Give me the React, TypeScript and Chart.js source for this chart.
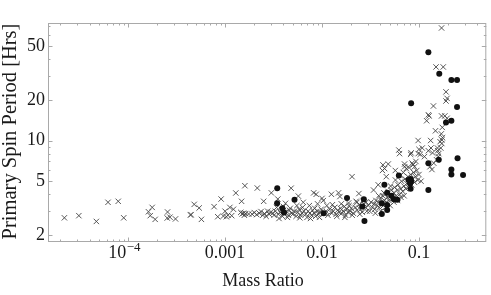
import React, { useEffect, useRef } from "react";
import { Chart, registerables } from "chart.js";

Chart.register(...registerables);

const FONT = '"Liberation Serif", "Times New Roman", Times, serif';

// Axis ranges
const xRange = [1.49e-5, 0.495];
const yRange = [1.775, 74];

// Tick labels
const xMajorTicks = [1e-4, 1e-3, 1e-2, 1e-1];
const xTickLabels = ["10^-4", "0.001", "0.01", "0.1"];
const yMajorTicks = [2, 5, 10, 20, 50];
const yTickLabels = ["2", "5", "10", "20", "50"];

const xAxisTitle = "Mass Ratio";
const yAxisTitle = "Primary Spin Period [Hrs]";

// Data: [mass ratio, primary spin period (hrs)]
const crossesSparse: [number, number][] = [
  [2.2e-5, 2.68], [3.1e-5, 2.78], [4.7e-5, 2.52], [6.2e-5, 3.49], [7.9e-5, 3.55], [9.0e-5, 2.68],
  [1.62e-4, 2.97], [1.77e-4, 3.2], [1.69e-4, 2.78], [1.9e-4, 2.61], [2.55e-4, 2.96], [2.53e-4, 2.67],
  [2.7e-4, 2.71], [3.08e-4, 2.63], [4.4e-4, 2.81], [4.45e-4, 2.83], [4.8e-4, 3.37], [5.4e-4, 3.17],
  [5.7e-4, 2.61], [7.7e-4, 3.24], [8.4e-4, 2.73], [9.1e-4, 3.69], [9.6e-4, 2.76],
];

const crossesLowBand: [number, number][] = [
  [1.0e-3, 3.0], [1.03e-3, 2.73], [1.12e-3, 3.2], [1.17e-3, 2.78], [1.07e-3, 2.8], [1.22e-3, 3.1],
  [1.29e-3, 4.09], [1.45e-3, 2.94], [1.48e-3, 3.55], [1.6e-3, 4.63], [1.5e-3, 2.86], [1.55e-3, 2.9],
  [1.58e-3, 2.8], [1.63e-3, 2.88], [1.75e-3, 2.86], [1.9e-3, 2.85], [2.0e-3, 2.93], [2.15e-3, 4.45],
  [2.12e-3, 2.83], [2.25e-3, 2.9], [2.35e-3, 2.98], [2.45e-3, 2.8], [2.5e-3, 3.55], [2.55e-3, 2.88],
  [2.65e-3, 2.75], [2.75e-3, 3.0], [2.85e-3, 2.85], [2.95e-3, 2.95], [3.0e-3, 4.1], [3.1e-3, 2.9],
  [3.2e-3, 2.8], [3.3e-3, 3.0], [3.4e-3, 3.2], [3.5e-3, 3.69], [3.55e-3, 2.85], [3.6e-3, 2.65],
  [3.7e-3, 2.95], [3.8e-3, 3.1], [3.9e-3, 2.75], [4.0e-3, 3.25], [4.1e-3, 2.9], [4.2e-3, 3.43],
  [4.3e-3, 3.0], [4.4e-3, 2.7], [4.5e-3, 2.8], [4.6e-3, 3.05], [4.7e-3, 3.15], [4.8e-3, 4.44],
  [4.85e-3, 2.9], [5.0e-3, 2.85], [5.2e-3, 3.0], [5.4e-3, 2.75], [5.5e-3, 3.3], [5.6e-3, 2.95],
  [5.7e-3, 3.88], [5.8e-3, 3.1], [5.9e-3, 2.68], [6.0e-3, 2.8], [6.2e-3, 2.9], [6.3e-3, 3.2],
  [6.4e-3, 3.49], [6.5e-3, 3.0], [6.8e-3, 2.85], [7.0e-3, 2.7], [7.2e-3, 3.0], [7.4e-3, 3.3],
  [7.5e-3, 2.9], [7.6e-3, 2.65], [7.8e-3, 2.8], [8.0e-3, 3.05], [8.2e-3, 4.1], [8.3e-3, 2.9],
  [8.4e-3, 3.15], [8.6e-3, 2.75], [8.7e-3, 4.0], [8.9e-3, 3.0], [9.0e-3, 3.4], [9.2e-3, 2.85],
  [9.4e-3, 2.7], [9.5e-3, 2.95], [9.8e-3, 3.1],
];

const crossesMidBand: [number, number][] = [
  [0.01, 3.73], [0.0103, 3.59], [0.0105, 2.9], [0.011, 3.0], [0.0112, 3.3], [0.0115, 2.8],
  [0.012, 3.1], [0.0125, 4.0], [0.0126, 2.9], [0.0128, 3.35], [0.013, 3.0], [0.0135, 3.2],
  [0.014, 2.85], [0.0142, 2.75], [0.0145, 3.05], [0.0148, 4.1], [0.015, 2.95], [0.0153, 3.85],
  [0.0155, 3.15], [0.0158, 3.4], [0.016, 2.9], [0.0165, 3.0], [0.017, 3.25], [0.0172, 2.7],
  [0.0175, 2.8], [0.018, 3.1], [0.0185, 2.95], [0.0188, 3.45], [0.019, 3.3], [0.0195, 3.0],
  [0.02, 3.15], [0.0204, 5.4], [0.0205, 2.8], [0.021, 2.9], [0.022, 3.2], [0.0225, 3.55],
  [0.0229, 3.49], [0.023, 3.05], [0.024, 4.05], [0.0242, 3.35], [0.0245, 2.85], [0.025, 3.1],
  [0.026, 2.95], [0.0265, 3.6], [0.027, 3.4], [0.028, 3.2], [0.0285, 3.5], [0.029, 3.0],
];

const crossesRising: [number, number][] = [
  [0.03, 3.3], [0.031, 3.0], [0.032, 3.5], [0.033, 3.2], [0.034, 4.3], [0.0345, 3.4],
  [0.035, 3.1], [0.0355, 2.9], [0.036, 3.6], [0.037, 3.3], [0.038, 4.7], [0.0382, 3.5],
  [0.0385, 3.9], [0.039, 3.2], [0.04, 3.7], [0.0405, 3.0], [0.041, 3.4], [0.042, 6.0],
  [0.0422, 3.9], [0.0425, 6.6], [0.043, 3.3], [0.0435, 4.1], [0.044, 3.6], [0.0442, 6.2],
  [0.045, 4.0], [0.0452, 3.2], [0.046, 5.4], [0.0462, 3.5], [0.047, 3.8], [0.048, 4.2],
  [0.0482, 6.7], [0.049, 3.6], [0.05, 3.9], [0.0505, 3.3], [0.051, 4.6], [0.052, 4.3],
  [0.053, 3.7], [0.055, 4.1], [0.0552, 3.5], [0.056, 4.5], [0.057, 6.0], [0.0572, 5.1],
  [0.058, 3.9], [0.06, 4.3], [0.0602, 3.6], [0.061, 4.7], [0.062, 8.5], [0.063, 8.0],
  [0.0632, 4.0], [0.064, 5.5], [0.065, 4.4], [0.0652, 3.8], [0.066, 5.0], [0.068, 4.2],
  [0.069, 5.8], [0.07, 4.6], [0.0702, 3.9], [0.071, 6.7], [0.0712, 6.4], [0.072, 5.2],
  [0.073, 4.4], [0.074, 6.2], [0.075, 4.8], [0.077, 5.4], [0.078, 4.5], [0.079, 6.3],
  [0.08, 5.0], [0.082, 7.9], [0.0822, 5.6], [0.083, 8.1], [0.084, 4.7], [0.085, 6.8],
  [0.086, 5.2], [0.087, 6.6], [0.088, 5.8], [0.09, 6.4], [0.0902, 4.9], [0.092, 5.4],
  [0.093, 7.0], [0.095, 6.0], [0.097, 5.1], [0.098, 10.0], [0.0982, 8.0],
];

const crossesHigh: [number, number][] = [
  [0.1, 8.6], [0.1, 5.6], [0.103, 7.9], [0.105, 5.0], [0.108, 8.8], [0.114, 7.6],
  [0.12, 14.0], [0.125, 8.4], [0.125, 15.5], [0.127, 15.2], [0.13, 6.4], [0.132, 10.0],
  [0.133, 8.8], [0.136, 6.1], [0.138, 8.1], [0.141, 18.0], [0.142, 6.8], [0.148, 11.8],
  [0.15, 35], [0.152, 7.2], [0.155, 8.8], [0.156, 8.4], [0.158, 7.6], [0.16, 8.0],
  [0.165, 9.8], [0.17, 11.2], [0.171, 15.2], [0.171, 68], [0.172, 10.1], [0.172, 9.5],
  [0.174, 12.5], [0.175, 10.5], [0.178, 35], [0.185, 15.2], [0.19, 22.9], [0.19, 19.6],
  [0.195, 20.5], [0.195, 14.6], [0.168, 8.8],
];

const dots: [number, number][] = [
  [0.125, 44.9], [0.162, 31.2], [0.216, 28], [0.247, 28], [0.083, 18.9], [0.247, 17.7],
  [0.19, 13.6], [0.216, 14.0], [0.125, 6.8], [0.16, 7.2], [0.25, 7.4], [0.216, 6.1],
  [0.216, 5.6], [0.285, 5.55], [0.125, 4.3], [0.062, 5.5], [0.082, 5.2], [0.083, 5.0],
  [0.081, 4.8], [0.078, 5.1], [0.082, 4.4], [0.0274, 2.54], [0.0414, 2.86], [0.0414, 3.43],
  [0.047, 4.1], [0.047, 3.33], [0.047, 3.06], [0.055, 3.67], [0.06, 3.64], [0.044, 4.7],
  [0.052, 3.9], [0.027, 3.67], [0.026, 3.25], [0.0181, 3.76], [0.0104, 2.9], [5.2e-3, 3.64],
  [3.45e-3, 4.44], [3.44e-3, 3.43], [3.9e-3, 3.16], [4.05e-3, 2.93],
];

const FRAME = "#a9a9a9";
const TEXT = "#1a1a1a";

const toXY = (arr: [number, number][]) => arr.map(([x, y]) => ({ x, y }));
const same = (a: number, b: number) => Math.abs(Math.log10(a) - Math.log10(b)) < 1e-6;

function minorTicks(min: number, max: number) {
  const out: number[] = [];
  for (let e = Math.floor(Math.log10(min)); e <= Math.ceil(Math.log10(max)); e++) {
    for (let m = 2; m <= 9; m++) {
      const v = m * Math.pow(10, e);
      if (v > min && v < max) out.push(v);
    }
  }
  return out;
}

const framePlugin = {
  id: "mathematicaFrame",
  afterDraw(chart: any) {
    const { ctx, chartArea } = chart;
    const xs = chart.scales.x;
    const ys = chart.scales.y;
    const { left, right, top, bottom } = chartArea;
    ctx.save();
    ctx.strokeStyle = FRAME;
    ctx.lineWidth = 1;
    ctx.strokeRect(left + 0.5, top + 0.5, right - left - 1, bottom - top - 1);

    const drawX = (v: number, len: number) => {
      const p = Math.round(xs.getPixelForValue(v)) + 0.5;
      ctx.beginPath();
      ctx.moveTo(p, bottom);
      ctx.lineTo(p, bottom - len);
      ctx.moveTo(p, top);
      ctx.lineTo(p, top + len);
      ctx.stroke();
    };
    const drawY = (v: number, len: number) => {
      const p = Math.round(ys.getPixelForValue(v)) + 0.5;
      ctx.beginPath();
      ctx.moveTo(left, p);
      ctx.lineTo(left + len, p);
      ctx.moveTo(right, p);
      ctx.lineTo(right - len, p);
      ctx.stroke();
    };
    xMajorTicks.forEach((v) => drawX(v, 4.5));
    minorTicks(xRange[0], xRange[1]).forEach((v) => {
      if (!xMajorTicks.some((t) => same(t, v))) drawX(v, 2.5);
    });
    yMajorTicks.forEach((v) => drawY(v, 4.5));
    minorTicks(yRange[0], yRange[1]).forEach((v) => {
      if (!yMajorTicks.some((t) => same(t, v))) drawY(v, 2.5);
    });

    ctx.fillStyle = TEXT;
    // superscript tick labels
    xTickLabels.forEach((lab, i) => {
      if (!lab.includes("^")) return;
      const [base, exp] = lab.split("^");
      const p = xs.getPixelForValue(xMajorTicks[i]);
      ctx.font = `18px ${FONT}`;
      const wb = ctx.measureText(base).width;
      ctx.font = `13px ${FONT}`;
      const expText = exp.replace("-", "\u2212");
      const we = ctx.measureText(expText).width;
      const start = p - (wb + we) / 2 - 4;
      ctx.textAlign = "left";
      ctx.textBaseline = "alphabetic";
      ctx.font = `18px ${FONT}`;
      ctx.fillText(base, start, 257.5);
      ctx.font = `13px ${FONT}`;
      ctx.fillText(expText, start + wb + 0.5, 251);
    });

    // axis titles
    ctx.textAlign = "center";
    ctx.textBaseline = "alphabetic";
    ctx.font = `18px ${FONT}`;
    ctx.fillText(xAxisTitle, 263, 285.5);
    ctx.save();
    ctx.font = `20.5px ${FONT}`;
    ctx.translate(15.5, (top + bottom) / 2 - 1);
    ctx.rotate(-Math.PI / 2);
    ctx.fillText(yAxisTitle, 0, 0);
    ctx.restore();
    ctx.restore();
  },
};

export default function App() {
  const ref = useRef<HTMLCanvasElement | null>(null);

  useEffect(() => {
    if (!ref.current) return;
    const crossData = toXY([
      ...crossesSparse,
      ...crossesLowBand,
      ...crossesMidBand,
      ...crossesRising,
      ...crossesHigh,
    ]);
    const chart = new Chart(ref.current, {
      type: "scatter",
      data: {
        datasets: [
          {
            label: "dots",
            data: toXY(dots),
            pointStyle: "circle",
            pointRadius: 3,
            pointHoverRadius: 3,
            backgroundColor: "#111111",
            borderColor: "#111111",
            borderWidth: 0,
          },
          {
            label: "crosses",
            data: crossData,
            pointStyle: "crossRot",
            pointRadius: 3.8,
            pointHoverRadius: 3.8,
            borderColor: "#454545",
            backgroundColor: "#454545",
            borderWidth: 0.9,
          },
        ],
      },
      options: {
        responsive: false,
        animation: false,
        events: [],
        layout: { padding: { left: 0, right: 3, top: 23, bottom: 0 } },
        plugins: {
          legend: { display: false },
          tooltip: { enabled: false },
          title: { display: false },
        },
        scales: {
          x: {
            type: "logarithmic",
            min: xRange[0],
            max: xRange[1],
            grid: { display: false, drawTicks: false },
            border: { display: false },
            afterBuildTicks: (s: any) => {
              s.ticks = xMajorTicks.map((value) => ({ value }));
            },
            afterFit: (s: any) => {
              s.height = 53;
            },
            ticks: {
              autoSkip: false,
              maxRotation: 0,
              padding: 0,
              color: TEXT,
              font: { family: FONT, size: 18 },
              callback: (v: any) => {
                const i = xMajorTicks.findIndex((t) => same(t, Number(v)));
                if (i < 0) return "";
                const lab = xTickLabels[i];
                return lab.includes("^") ? "" : lab;
              },
            },
          },
          y: {
            type: "logarithmic",
            min: yRange[0],
            max: yRange[1],
            grid: { display: false, drawTicks: false },
            border: { display: false },
            afterBuildTicks: (s: any) => {
              s.ticks = yMajorTicks.map((value) => ({ value }));
            },
            afterFit: (s: any) => {
              s.width = 48;
            },
            ticks: {
              autoSkip: false,
              padding: 3,
              color: TEXT,
              font: { family: FONT, size: 18 },
              callback: (v: any) => {
                const i = yMajorTicks.findIndex((t) => same(t, Number(v)));
                return i < 0 ? "" : yTickLabels[i];
              },
            },
          },
        },
      },
      plugins: [framePlugin],
    } as any);
    return () => chart.destroy();
  }, []);

  return (
    <div style={{ position: "absolute", left: 0, top: 0, width: 491, height: 295, background: "#fff" }}>
      <canvas ref={ref} width={491} height={295} style={{ display: "block" }} />
    </div>
  );
}
